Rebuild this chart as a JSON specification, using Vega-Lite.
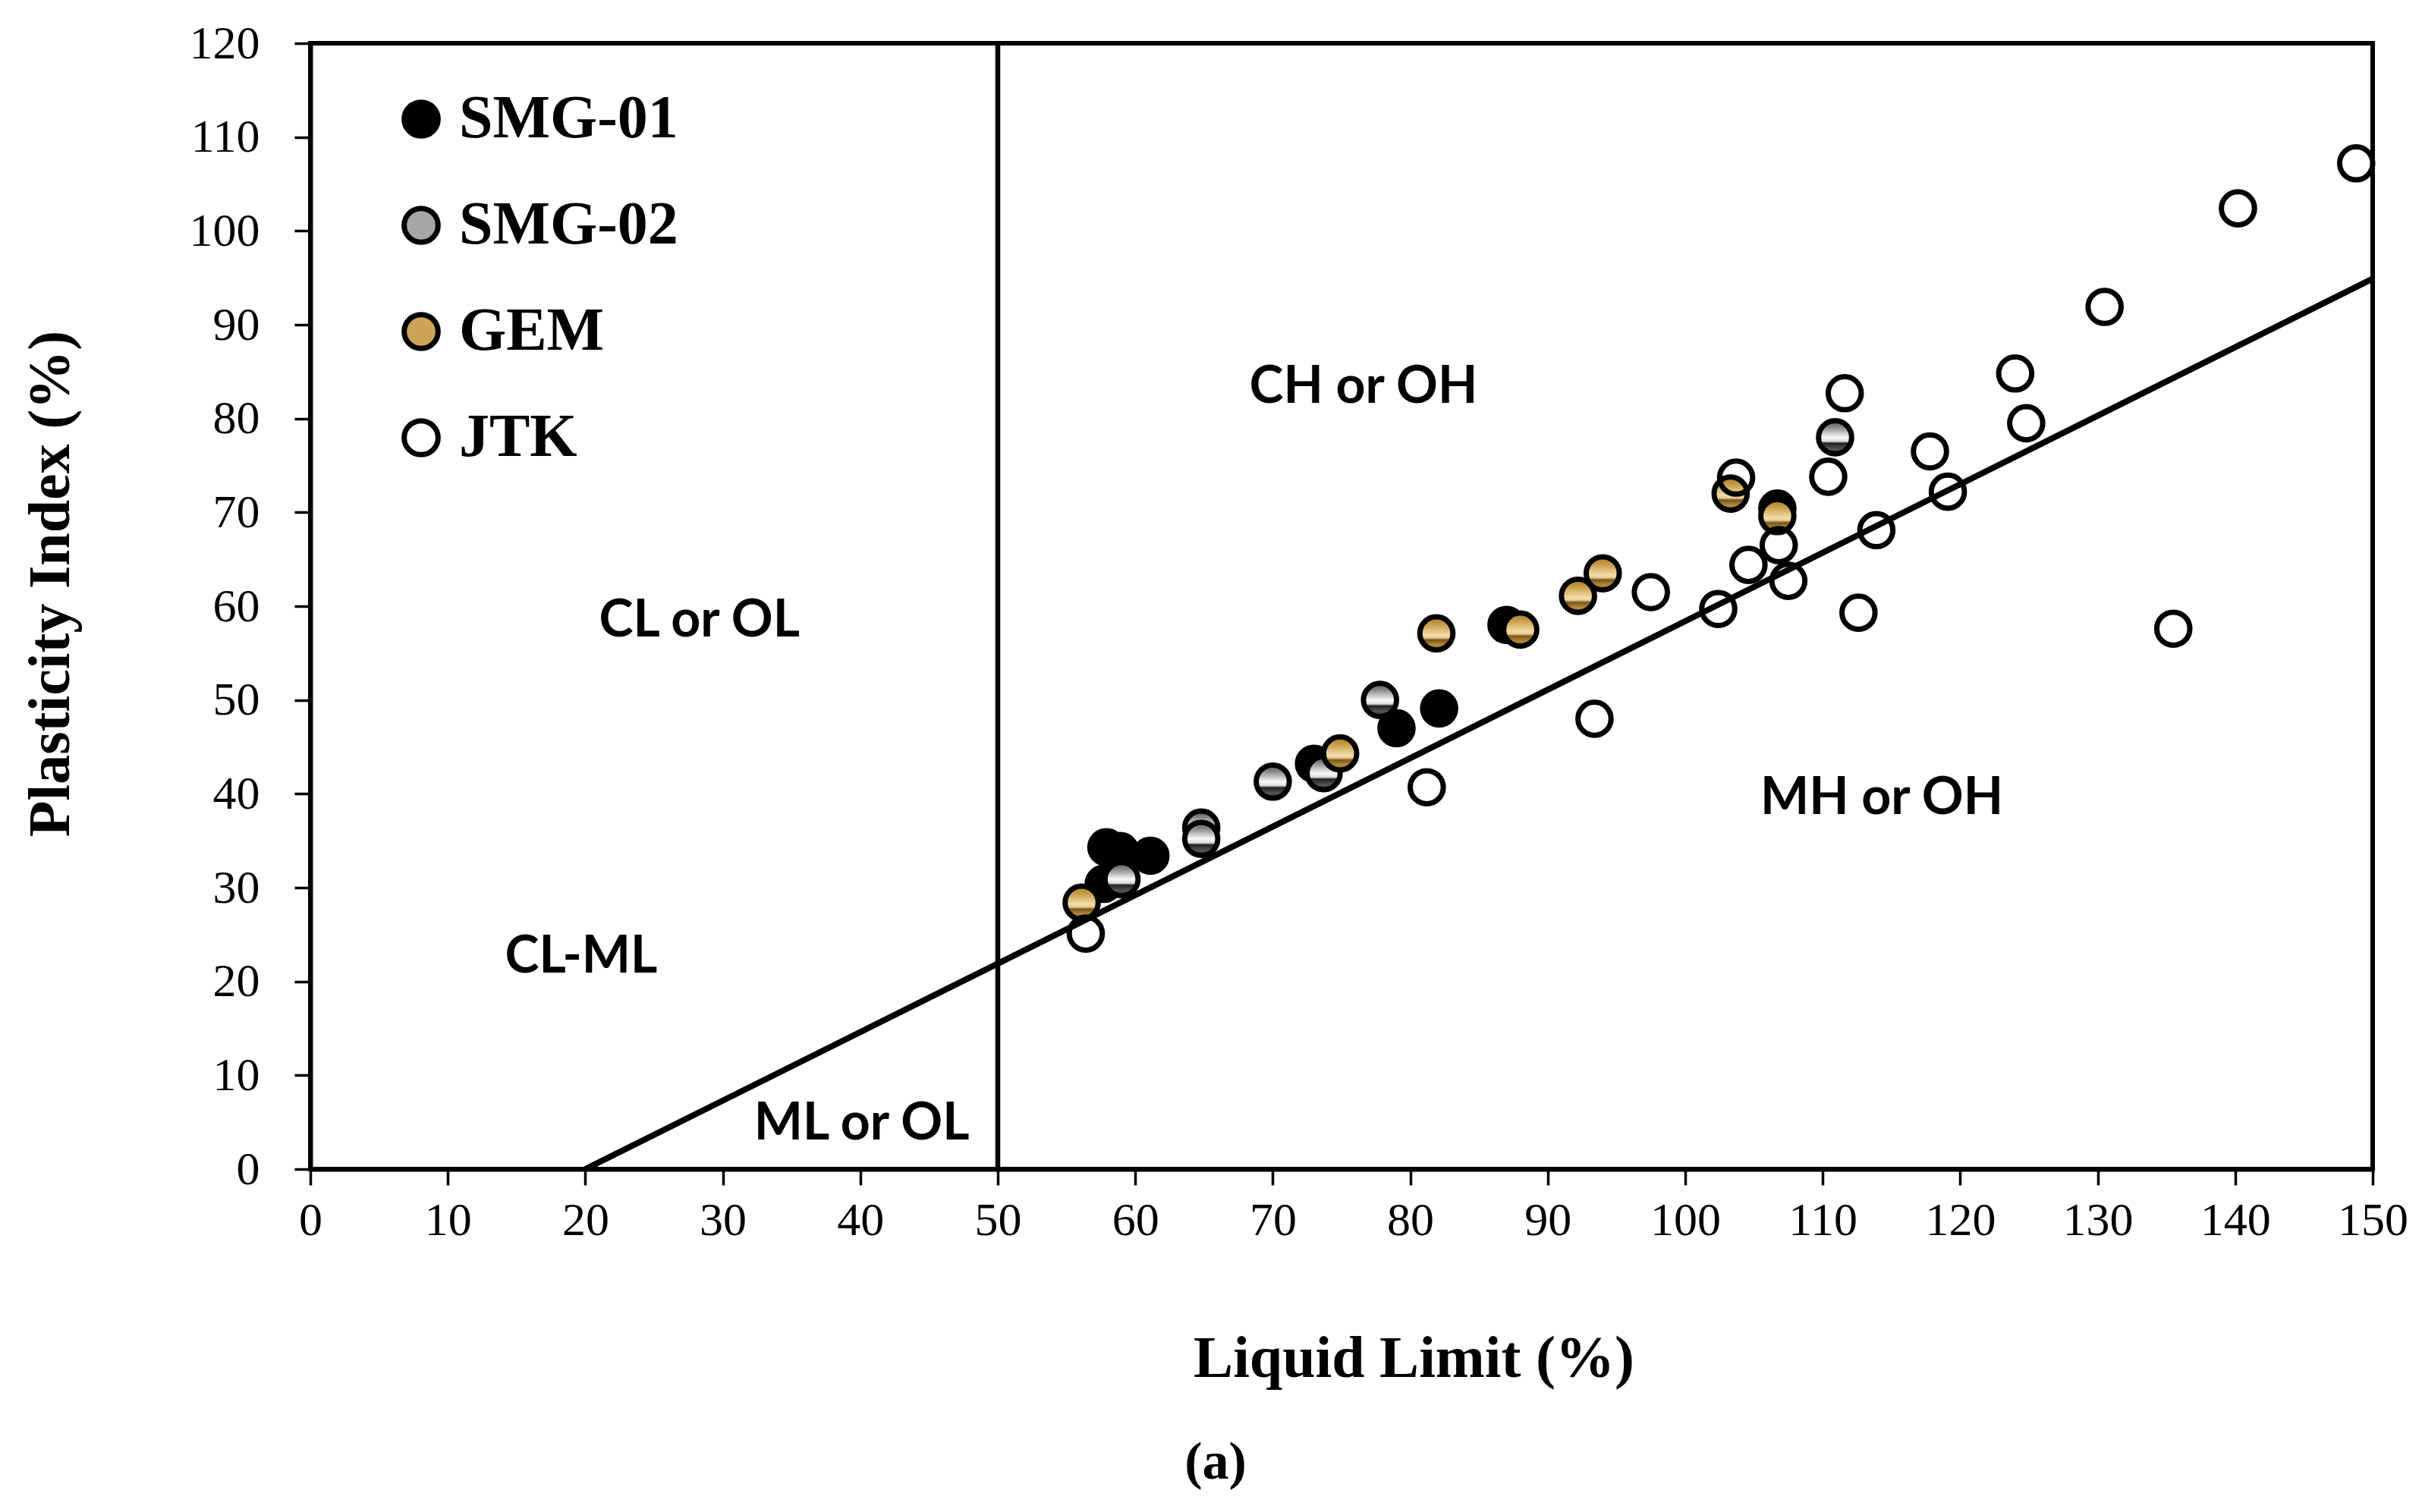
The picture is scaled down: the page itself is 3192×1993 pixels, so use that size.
{
  "$schema": "https://vega.github.io/schema/vega-lite/v6.json",
  "width": 2718,
  "height": 1484,
  "autosize": {"type": "none"},
  "padding": {"left": 409, "top": 57, "right": 65, "bottom": 452},
  "background": "white",
  "config": {
    "view": {"stroke": "black", "strokeWidth": 6},
    "axis": {
      "grid": false,
      "domainColor": "black",
      "domainWidth": 6,
      "tickColor": "black",
      "tickWidth": 3.5,
      "tickSize": 21,
      "labelFlush": false,
      "labelColor": "black",
      "labelFont": "Liberation Serif",
      "labelFontSize": 62,
      "titleColor": "black",
      "titleFont": "Liberation Serif",
      "titleFontSize": 78,
      "titleFontWeight": "bold"
    }
  },
  "title": {
    "text": "(a)",
    "orient": "bottom",
    "anchor": "middle",
    "dx": -166,
    "offset": 64,
    "font": "Liberation Serif",
    "fontSize": 70,
    "fontWeight": "bold",
    "color": "black"
  },
  "datasets": {
    "pts": [
      {"LL": 57.9, "PI": 34.3, "group": "SMG-01"},
      {"LL": 58.9, "PI": 33.9, "group": "SMG-01"},
      {"LL": 61.1, "PI": 33.4, "group": "SMG-01"},
      {"LL": 57.7, "PI": 30.4, "group": "SMG-01"},
      {"LL": 73.0, "PI": 43.2, "group": "SMG-01"},
      {"LL": 79.0, "PI": 47.0, "group": "SMG-01"},
      {"LL": 82.1, "PI": 49.1, "group": "SMG-01"},
      {"LL": 87.0, "PI": 58.0, "group": "SMG-01"},
      {"LL": 106.7, "PI": 70.4, "group": "SMG-01"},
      {"LL": 59.0, "PI": 30.9, "group": "SMG-02"},
      {"LL": 64.8, "PI": 36.4, "group": "SMG-02"},
      {"LL": 64.8, "PI": 35.2, "group": "SMG-02"},
      {"LL": 70.0, "PI": 41.3, "group": "SMG-02"},
      {"LL": 73.7, "PI": 42.2, "group": "SMG-02"},
      {"LL": 77.8, "PI": 50.0, "group": "SMG-02"},
      {"LL": 110.9, "PI": 78.0, "group": "SMG-02"},
      {"LL": 56.1, "PI": 28.4, "group": "GEM"},
      {"LL": 74.9, "PI": 44.3, "group": "GEM"},
      {"LL": 81.9, "PI": 57.1, "group": "GEM"},
      {"LL": 88.0, "PI": 57.5, "group": "GEM"},
      {"LL": 92.2, "PI": 61.1, "group": "GEM"},
      {"LL": 94.0, "PI": 63.5, "group": "GEM"},
      {"LL": 103.3, "PI": 72.0, "group": "GEM"},
      {"LL": 106.7, "PI": 69.6, "group": "GEM"},
      {"LL": 56.4, "PI": 25.1, "group": "JTK"},
      {"LL": 81.2, "PI": 40.7, "group": "JTK"},
      {"LL": 93.4, "PI": 48.0, "group": "JTK"},
      {"LL": 97.5, "PI": 61.5, "group": "JTK"},
      {"LL": 102.4, "PI": 59.7, "group": "JTK"},
      {"LL": 103.7, "PI": 73.7, "group": "JTK"},
      {"LL": 104.6, "PI": 64.4, "group": "JTK"},
      {"LL": 106.8, "PI": 66.5, "group": "JTK"},
      {"LL": 107.5, "PI": 62.7, "group": "JTK"},
      {"LL": 110.4, "PI": 73.8, "group": "JTK"},
      {"LL": 111.6, "PI": 82.7, "group": "JTK"},
      {"LL": 112.6, "PI": 59.3, "group": "JTK"},
      {"LL": 113.9, "PI": 68.1, "group": "JTK"},
      {"LL": 117.8, "PI": 76.5, "group": "JTK"},
      {"LL": 119.1, "PI": 72.2, "group": "JTK"},
      {"LL": 124.0, "PI": 84.8, "group": "JTK"},
      {"LL": 124.8, "PI": 79.5, "group": "JTK"},
      {"LL": 130.5, "PI": 91.9, "group": "JTK"},
      {"LL": 135.5, "PI": 57.6, "group": "JTK"},
      {"LL": 140.2, "PI": 102.4, "group": "JTK"},
      {"LL": 148.8, "PI": 107.2, "group": "JTK"}
    ]
  },
  "encoding": {
    "x": {
      "field": "LL",
      "type": "quantitative",
      "scale": {"domain": [0, 150], "nice": false, "zero": false},
      "axis": {
        "values": [0, 10, 20, 30, 40, 50, 60, 70, 80, 90, 100, 110, 120, 130, 140, 150],
        "labelPadding": 16,
        "title": "Liquid Limit (%)",
        "titleX": 1454,
        "titleY": 250,
        "titleAlign": "center",
        "titleBaseline": "middle"
      }
    },
    "y": {
      "field": "PI",
      "type": "quantitative",
      "scale": {"domain": [0, 120], "nice": false, "zero": false},
      "axis": {
        "values": [0, 10, 20, 30, 40, 50, 60, 70, 80, 90, 100, 110, 120],
        "labelPadding": 46,
        "title": "Plasticity Index (%)",
        "titleX": -342,
        "titleY": 712,
        "titleAngle": -90,
        "titleAlign": "center",
        "titleBaseline": "middle"
      }
    }
  },
  "layer": [
    {
      "data": {"name": "pts"},
      "transform": [{"filter": "datum.group === 'SMG-01'"}],
      "mark": {"type": "point", "shape": "circle", "filled": true, "size": 1900, "fill": "black", "stroke": "black", "strokeWidth": 7, "opacity": 1}
    },
    {
      "data": {"name": "pts"},
      "transform": [{"filter": "datum.group === 'SMG-02'"}],
      "mark": {"type": "point", "shape": "circle", "filled": true, "size": 1900, "stroke": "black", "strokeWidth": 7, "opacity": 1,
        "fill": {"gradient": "linear", "x1": 0, "y1": 0, "x2": 0, "y2": 1, "stops": [
          {"offset": 0, "color": "#505050"},
          {"offset": 0.2, "color": "#8a8a8a"},
          {"offset": 0.5, "color": "#f8f8f8"},
          {"offset": 0.62, "color": "#dcdcdc"},
          {"offset": 0.68, "color": "#222222"},
          {"offset": 0.85, "color": "#555555"},
          {"offset": 1, "color": "#333333"}
        ]}}
    },
    {
      "data": {"name": "pts"},
      "transform": [{"filter": "datum.group === 'GEM'"}],
      "mark": {"type": "point", "shape": "circle", "filled": true, "size": 1900, "stroke": "black", "strokeWidth": 7, "opacity": 1,
        "fill": {"gradient": "linear", "x1": 0, "y1": 0, "x2": 0, "y2": 1, "stops": [
          {"offset": 0, "color": "#a57a22"},
          {"offset": 0.25, "color": "#c9a04e"},
          {"offset": 0.55, "color": "#f2dca6"},
          {"offset": 0.63, "color": "#e6cd95"},
          {"offset": 0.7, "color": "#7a5518"},
          {"offset": 0.85, "color": "#b38a3c"},
          {"offset": 1, "color": "#8c6a2a"}
        ]}}
    },
    {
      "data": {"name": "pts"},
      "transform": [{"filter": "datum.group === 'JTK'"}],
      "mark": {"type": "point", "shape": "circle", "filled": true, "size": 1900, "stroke": "black", "strokeWidth": 7, "opacity": 1},
      "encoding": {
        "fill": {
          "field": "group",
          "type": "nominal",
          "scale": {"domain": ["SMG-01", "SMG-02", "GEM", "JTK"], "range": ["#000000", "#a6a6a6", "#cda455", "transparent"]},
          "legend": {
            "orient": "none",
            "legendX": 106,
            "legendY": 60,
            "title": null,
            "padding": 0,
            "symbolType": "circle",
            "symbolSize": 2000,
            "symbolStrokeWidth": 7,
            "symbolStrokeColor": "black",
            "symbolOpacity": 1,
            "labelFont": "Liberation Serif",
            "labelFontSize": 80,
            "labelFontWeight": "bold",
            "labelColor": "black",
            "labelOffset": 10,
            "rowPadding": 60,
            "labelLimit": 600
          }
        }
      }
    },
    {
      "data": {"values": [{"LL": 20, "PI": 0}, {"LL": 150, "PI": 94.9}]},
      "mark": {"type": "line", "color": "black", "strokeWidth": 8},
      "encoding": {}
    },
    {
      "data": {"values": [{"LL": 50, "PI": 0, "PI2": 120}]},
      "mark": {"type": "rule", "color": "black", "strokeWidth": 6.5},
      "encoding": {
        "y2": {"field": "PI2"}
      }
    },
    {
      "data": {
        "values": [
          {"LL": 76.6, "PI": 83.3, "label": "CH or OH"},
          {"LL": 28.3, "PI": 58.4, "label": "CL or OL"},
          {"LL": 19.7, "PI": 22.6, "label": "CL-ML"},
          {"LL": 40.1, "PI": 4.8, "label": "ML or OL"},
          {"LL": 114.3, "PI": 39.5, "label": "MH or OH"}
        ]
      },
      "mark": {"type": "text", "font": "Lato", "fontWeight": "bold", "fontSize": 68, "color": "black", "align": "center", "baseline": "middle"},
      "encoding": {
        "text": {"field": "label"}
      }
    }
  ]
}
